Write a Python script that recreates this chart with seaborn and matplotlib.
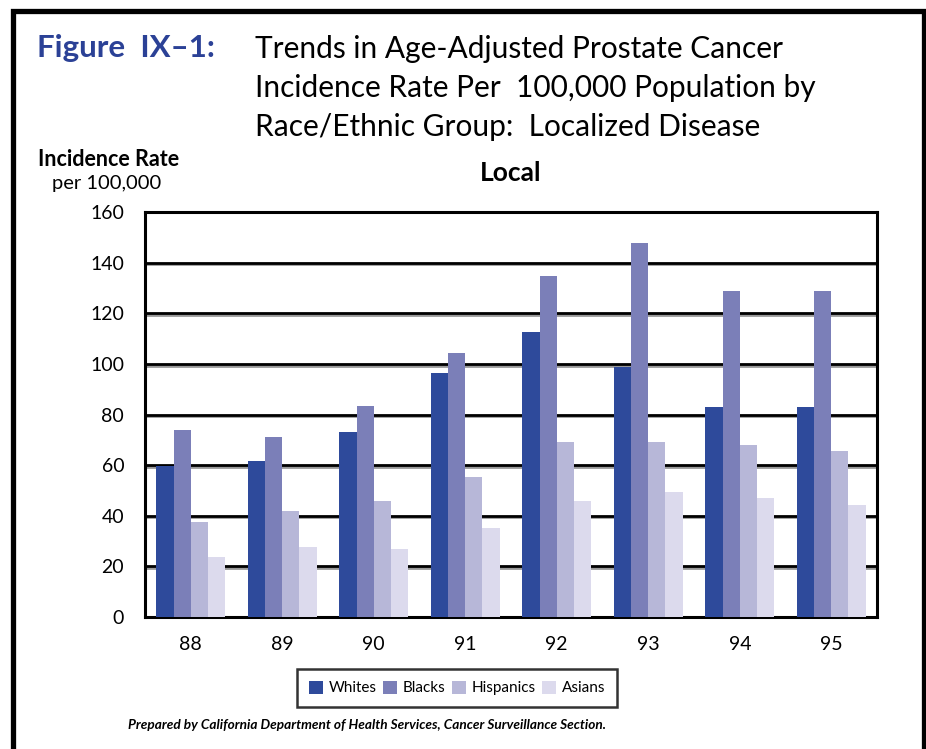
import pandas as pd
import matplotlib
matplotlib.use("Agg")
import matplotlib.pyplot as plt
import matplotlib.patheffects as pe
from matplotlib.lines import Line2D
from matplotlib.patches import Patch
import seaborn as sns

# data
years = ["88", "89", "90", "91", "92", "93", "94", "95"]
groups = ["Whites", "Blacks", "Hispanics", "Asians"]
whites = [59.8, 61.5, 72.9, 96.5, 112.5, 98.8, 82.8, 82.8]
blacks = [73.8, 71.3, 83.5, 104.2, 134.7, 147.8, 128.9, 128.9]
hispanics = [37.7, 41.7, 45.7, 55.5, 69.3, 69.3, 67.8, 65.4]
asians = [23.7, 27.7, 26.9, 35.3, 45.7, 49.2, 47.2, 44.1]
colors = ["#2E4A9B", "#7B7FB8", "#B7B7D8", "#DCDAED"]

rows = []
for g, vals in zip(groups, [whites, blacks, hispanics, asians]):
    for y, v in zip(years, vals):
        rows.append({"year": y, "group": g, "rate": v})
df = pd.DataFrame(rows)

sns.set_style("white")
plt.rcParams["font.family"] = ["Lato", "DejaVu Sans"]
plt.rcParams["text.color"] = "black"
plt.rcParams["xtick.color"] = "black"
plt.rcParams["ytick.color"] = "black"

W, H = 926, 749
fig = plt.figure(figsize=(W / 100, H / 100), dpi=100)
ax = fig.add_axes([145 / W, 1 - 617 / H, (877 - 145) / W, (617 - 212) / H])

def fx(x):
    return x / W

def fy(y):
    return 1 - y / H

sns.barplot(data=df, x="year", y="rate", hue="group", hue_order=groups,
            palette=colors, saturation=1, width=0.75, gap=0, legend=False,
            linewidth=0, ax=ax, zorder=3)

ax.set_ylim(0, 160)
ax.set_xlim(-0.5, 7.5)
ax.set_yticks(range(0, 161, 20))
ax.set_xlabel("")
ax.set_ylabel("")

# horizontal grid with a little grey shadow
for v in range(20, 160, 20):
    ax.axhline(v, color="black", lw=2, zorder=1,
               path_effects=[pe.SimpleLineShadow(offset=(0, -1.2), shadow_color="#999999", alpha=1),
                             pe.Normal()])

for s in ax.spines.values():
    s.set_color("black")
    s.set_linewidth(2.2)
    s.set_visible(True)

ax.set_xticks(range(len(years)))
ax.set_xticklabels(years, fontsize=14)
ax.set_xticks([i - 0.5 for i in range(len(years) + 1)], minor=True)
ax.tick_params(axis="x", which="major", length=0, pad=14)
ax.tick_params(axis="x", which="minor", length=11, width=2, direction="out", color="black")
ax.tick_params(axis="y", length=8, width=2, direction="out", color="black", labelsize=14, pad=7)

# titles
fig.text(fx(37), fy(48), "Figure  IX\u20131:", color="#2B4196", fontsize=22.5,
         fontweight="bold", va="center", ha="left")
title_lines = ["Trends in Age-Adjusted Prostate Cancer",
               "Incidence Rate Per  100,000 Population by",
               "Race/Ethnic Group:  Localized Disease"]
for i, line in enumerate(title_lines):
    fig.text(fx(255), fy(49 + 39 * i), line, fontsize=21.5, va="center", ha="left")

fig.text(fx(109), fy(160), "Incidence Rate", fontsize=15.5, fontweight="bold",
         ha="center", va="center")
fig.text(fx(107), fy(183), "per 100,000", fontsize=14.5, ha="center", va="center")
fig.text(fx(511), fy(173), "Local", fontsize=19, fontweight="bold",
         ha="center", va="center")

handles = [Patch(facecolor=c, edgecolor="none", label=g) for c, g in zip(colors, groups)]
leg = fig.legend(handles=handles, loc="center", bbox_to_anchor=(fx(457), fy(688)),
                 ncol=4, frameon=True, fancybox=False, fontsize=11,
                 handlelength=0.95, handleheight=0.95, handletextpad=0.35,
                 columnspacing=0.4, borderpad=0.75, borderaxespad=0)
leg.get_frame().set_edgecolor("black")
leg.get_frame().set_linewidth(1.8)

fig.text(fx(128), fy(725),
         "Prepared by California Department of Health Services, Cancer Surveillance Section.",
         fontsize=9.8, fontweight="bold", fontstyle="italic", ha="left", va="center")

# page frame (open at the bottom)
fig.add_artist(Line2D([fx(12.5), fx(12.5), fx(923.5), fx(923.5)],
                      [0, fy(10.5), fy(10.5), 0], transform=fig.transFigure,
                      color="black", lw=3.8, solid_joinstyle="miter"))

fig.savefig("out.png", dpi=100)
